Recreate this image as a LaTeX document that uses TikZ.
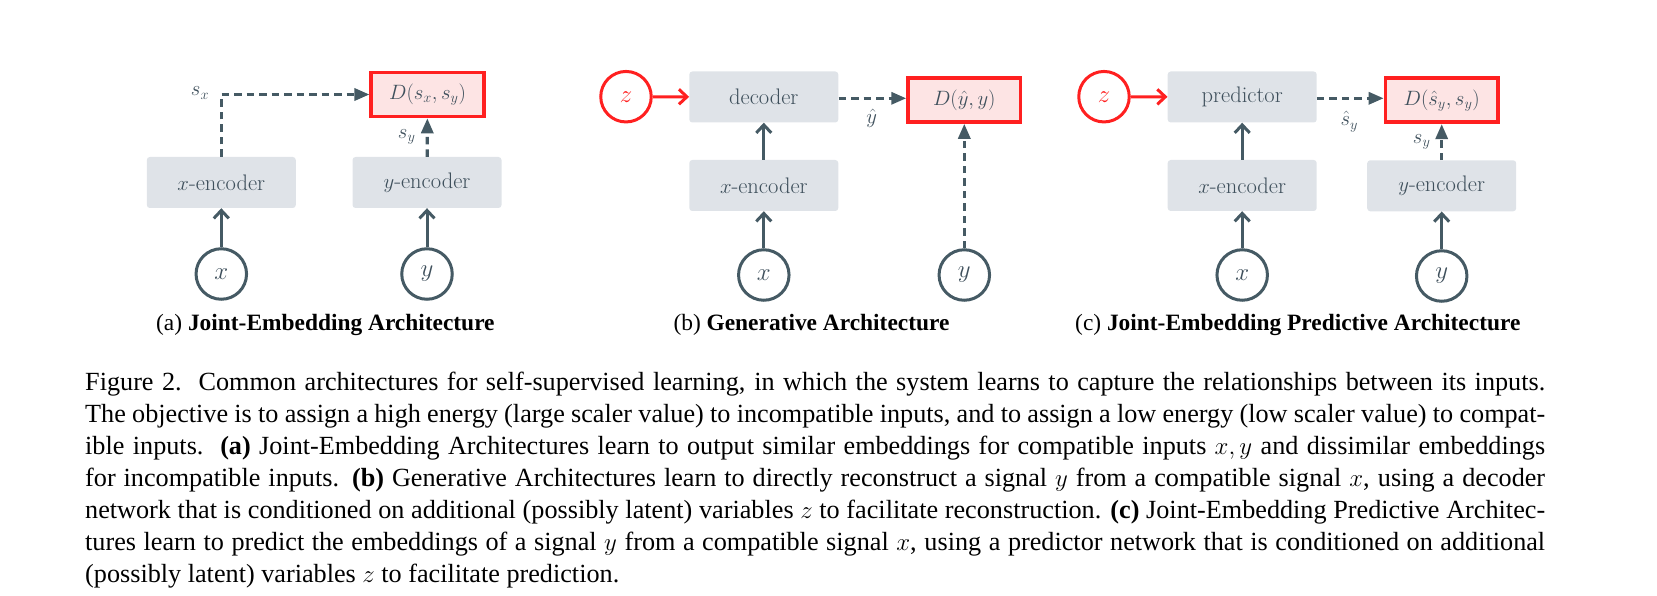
\documentclass[tikz,border=0pt]{standalone}
\usepackage{fontspec}
\newfontfamily\capfont{Liberation Serif}
\usetikzlibrary{arrows.meta,calc}
\definecolor{slate}{HTML}{455A64}
\definecolor{txtslate}{HTML}{3F505C}
\definecolor{boxfill}{HTML}{DFE3E8}
\definecolor{redc}{HTML}{FF2020}
\definecolor{pinkfill}{HTML}{FDE4E4}
\newlength{\capw}
\setlength{\capw}{1460pt}
\tikzset{
  module/.style={fill=boxfill, rounded corners=3, minimum width=149, minimum height=51,
    inner sep=0, text=txtslate, font=\fontsize{22.5}{26}\selectfont},
  dbox/.style={draw=redc, line width=3.6, fill=pinkfill, minimum width=112.5, minimum height=44,
    inner sep=0, text=txtslate, font=\fontsize{22}{26}\selectfont},
  var/.style={circle, draw=slate, line width=3, minimum size=50.5, inner sep=0, text=txtslate,
    font=\fontsize{25}{29}\selectfont},
  zvar/.style={var, draw=redc, text=redc},
  lbl/.style={inner sep=0, text=txtslate, font=\fontsize{22}{26}\selectfont},
  solidarr/.style={draw=slate, line width=3, -{Straight Barb[length=8,width=15,line width=3]}},
  redarr/.style={draw=redc, line width=3, -{Straight Barb[length=8,width=15,line width=3]}},
  dasharr/.style={draw=slate, line width=3.2, dash pattern=on 7.5 off 5,
    -{Triangle[length=15,width=12]}},
  capline/.style={inner sep=0, anchor=base west, font=\capfont\fontsize{26.2}{32}\selectfont},
  subcap/.style={inner sep=0, anchor=base west, font=\capfont\fontsize{23.4}{28}\selectfont},
}
\begin{document}
\begin{tikzpicture}[x=1pt,y=-1pt]
\useasboundingbox (0,0) rectangle (1657,596);
% ---------- (a) ----------
\node[dbox] (Da) at (427.5,94.5) {$D(s_x, s_y)$};
\node[module] (xenca) at (221.3,182.5) {$x$-encoder};
\node[module] (yenca) at (427,182.5) {$y$-encoder};
\node[var] (xa) at (221.3,274) {$x$};
\node[var] (ya) at (427,274) {$y$};
\draw[solidarr] (xa) -- (xenca);
\draw[solidarr] (ya) -- (yenca);
\draw[dasharr] (xenca.north) |- (Da.west);
\draw[dasharr] (yenca) -- (Da);
\node[lbl] (lsxa) at (200,93) {$s_x$};
\node[lbl] (lsya) at (406.7,136.5) {$s_y$};
\node[subcap] (capa) at (156,330) {(a) \textbf{Joint-Embedding Architecture}};
% ---------- (b) ----------
\node[zvar] (zb) at (626,96.7) {$z$};
\node[module] (decb) at (763.8,97) {decoder};
\node[module] (xencb) at (763.8,185.5) {$x$-encoder};
\node[var] (xb) at (763.8,275) {$x$};
\node[dbox] (Db) at (964.3,100) {$D(\hat{y}, y)$};
\node[var] (yb) at (964.3,275) {$y$};
\draw[redarr] (zb) -- (decb);
\draw[solidarr] (xencb) -- (decb);
\draw[solidarr] (xb) -- (xencb);
\draw[dasharr] ($(decb.east)+(0,1.3)$) -- ($(decb.east -| Db.west)+(0,1.3)$);
\draw[dasharr] (yb) -- (Db);
\node[lbl] (lyhat) at (871.7,118.3) {$\hat{y}$};
\node[subcap] (capb) at (673.3,330) {(b) \textbf{Generative Architecture}};
% ---------- (c) ----------
\node[zvar] (zc) at (1104,96.7) {$z$};
\node[module] (predc) at (1242.2,97) {predictor};
\node[module] (xencc) at (1242.2,185.5) {$x$-encoder};
\node[var] (xc) at (1242.2,275) {$x$};
\node[dbox] (Dc) at (1441.7,100.3) {$D(\hat{s}_y, s_y)$};
\node[module] (yencc) at (1441.7,185.8) {$y$-encoder};
\node[var] (yc) at (1441.7,276) {$y$};
\draw[redarr] (zc) -- (predc);
\draw[solidarr] (xencc) -- (predc);
\draw[solidarr] (xc) -- (xencc);
\draw[solidarr] (yc) -- (yencc);
\draw[dasharr] ($(predc.east)+(0,1.3)$) -- ($(predc.east -| Dc.west)+(0,1.3)$);
\draw[dasharr] (yencc) -- (Dc);
\node[lbl] (lshat) at (1349.3,121.7) {$\hat{s}_y$};
\node[lbl] (lsyc) at (1421.7,142) {$s_y$};
\node[subcap] (capc) at (1075,330) {(c) \textbf{Joint-Embedding Predictive Architecture}};
% ---------- caption ----------
\node[capline] (c1) at (85,390.5) {\hbox to \capw{Figure 2.\ \ Common architectures for self-supervised learning, in which the system learns to capture the relationships between its inputs.}};
\node[capline] (c2) at (85,422.5) {\hbox to \capw{The objective is to assign a high energy (large scaler value) to incompatible inputs, and to assign a low energy (low scaler value) to compat-}};
\node[capline] (c3) at (85,454.5) {\hbox to \capw{ible inputs.\ \ \textbf{(a)} Joint-Embedding Architectures learn to output similar embeddings for compatible inputs $x, y$ and dissimilar embeddings}};
\node[capline] (c4) at (85,486.5) {\hbox to \capw{for incompatible inputs. \textbf{(b)} Generative Architectures learn to directly reconstruct a signal $y$ from a compatible signal $x$, using a decoder}};
\node[capline] (c5) at (85,518.5) {\hbox to \capw{network that is conditioned on additional (possibly latent) variables $z$ to facilitate reconstruction. \textbf{(c)} Joint-Embedding Predictive Architec-}};
\node[capline] (c6) at (85,550.5) {\hbox to \capw{tures learn to predict the embeddings of a signal $y$ from a compatible signal $x$, using a predictor network that is conditioned on additional}};
\node[capline] (c7) at (85,582.5) {\hbox to \capw{(possibly latent) variables $z$ to facilitate prediction.\hfil}};
\end{tikzpicture}
\end{document}
